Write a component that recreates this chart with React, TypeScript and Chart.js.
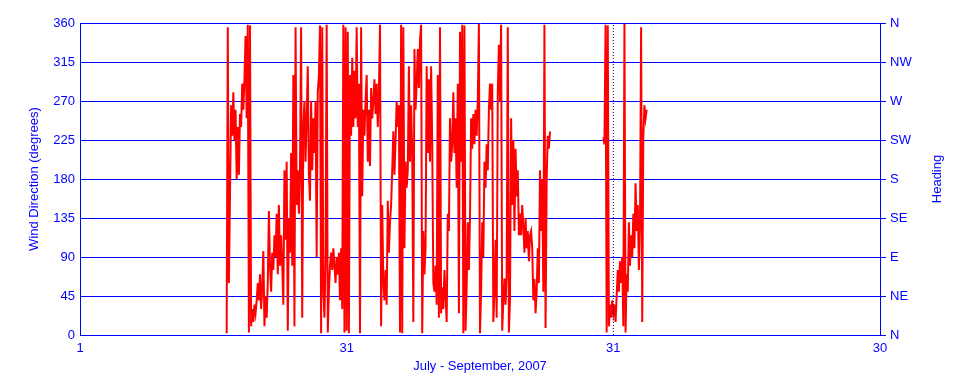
import React, { useEffect, useRef } from 'react';
import { Chart, registerables } from 'chart.js';

Chart.register(...registerables);

// Wind direction samples (degrees), one every 3 hours starting 16.5 days after July 1; null = no data
const START_DAY = 16.5;
const STEP_DAYS = 0.125;
const windDirection: (number | null)[] = [
  2, 355, 60, 160, 265, 230, 280, 225, 260, 180,
  240, 185, 255, 240, 290, 260, 295, 345, 250, 358,
  3, 357, 10, 30, 15, 35, 25, 40, 60, 40,
  70, 30, 55, 97, 10, 45, 20, 60, 143, 80,
  50, 95, 75, 115, 90, 140, 70, 150, 80, 115,
  80, 35, 190, 110, 200, 5, 135, 95, 210, 80,
  300, 10, 355, 150, 190, 140, 195, 355, 20, 240,
  270, 200, 250, 310, 185, 155, 270, 190, 250, 210,
  270, 90, 280, 300, 357, 2, 355, 50, 20, 90,
  358, 3, 50, 80, 95, 75, 100, 80, 60, 90,
  70, 95, 40, 100, 30, 358, 3, 355, 5, 350,
  2, 300, 230, 320, 240, 305, 250, 355, 240, 290,
  2, 355, 160, 260, 230, 270, 300, 200, 260, 195,
  285, 250, 270, 295, 255, 290, 240, 280, 358, 10,
  150, 60, 40, 75, 35, 155, 95, 130, 150, 190,
  235, 185, 225, 270, 240, 265, 3, 358, 2, 355,
  100, 200, 170, 190, 310, 200, 265, 210, 15, 330,
  260, 290, 330, 285, 340, 358, 2, 120, 70, 100,
  310, 210, 295, 200, 310, 220, 60, 50, 80, 35,
  300, 20, 355, 25, 55, 30, 75, 45, 15, 140,
  120, 250, 200, 220, 280, 210, 250, 170, 290, 25,
  350, 200, 358, 2, 357, 5, 55, 130, 75, 135,
  250, 215, 255, 220, 260, 230, 270, 359, 2, 50,
  130, 90, 200, 170, 220, 190, 260, 290, 260, 290,
  15, 50, 110, 20, 280, 335, 270, 358, 5, 40,
  65, 35, 70, 355, 3, 40, 250, 150, 225, 120,
  215, 160, 190, 115, 140, 115, 150, 125, 95, 135,
  100, 120, 85, 115, 120, 100, 40, 65, 25, 50,
  100, 60, 190, 120, 180, 50, 358, 8, 180, 230,
  215, 235,
  null, null, null, null, null, null, null, null, null, null,
  null, null, null, null, null, null, null, null, null, null,
  null, null, null, null, null, null, null, null, null, null,
  null, null, null, null, null, null, null, null, null, null,
  null, null, null, null, null, null, null,
  228, 220, 358, 3, 357, 10, 35, 20, 40, 25,
  35, 15, 45, 75, 50, 85, 60, 90, 10, 359,
  3, 70, 50, 130, 80, 115, 90, 140, 100, 175,
  120, 150, 75, 130, 355, 15, 230, 265, 250, 260,
];

const xTickDays = [0, 30, 60, 90];
const xTickLabels = ['1', '31', '31', '30'];
const degreeTicks = [0, 45, 90, 135, 180, 225, 270, 315, 360];
const headingLabels = ['N', 'NE', 'E', 'SE', 'S', 'SW', 'W', 'NW', 'N'];
const gapMarkerDay = 60;

const BLUE = '#0000ff';
const RED = '#ff0000';
const FONT_FAMILY = '"Liberation Sans", Arial, sans-serif';
const FONT = { family: FONT_FAMILY, size: 13 };

export default function App() {
  const canvasRef = useRef<HTMLCanvasElement>(null);

  useEffect(() => {
    const canvas = canvasRef.current;
    if (!canvas) return;
    const points = windDirection.map((v, i) => ({ x: START_DAY + i * STEP_DAYS, y: v }));

    const headingTitle = {
      id: 'headingTitle',
      afterDraw(chart: any) {
        const { ctx, chartArea } = chart;
        ctx.save();
        ctx.fillStyle = BLUE;
        ctx.font = `13px ${FONT_FAMILY}`;
        ctx.textAlign = 'center';
        ctx.textBaseline = 'middle';
        ctx.translate(chartArea.right + 57, (chartArea.top + chartArea.bottom) / 2);
        ctx.rotate(-Math.PI / 2);
        ctx.fillText('Heading', 0, 0);
        ctx.restore();
      },
    };

    const chart = new Chart(canvas, {
      type: 'line',
      data: {
        datasets: [
          {
            data: [
              { x: gapMarkerDay, y: 0 },
              { x: gapMarkerDay, y: 360 },
            ],
            borderColor: '#000080',
            borderWidth: 1,
            borderDash: [1, 2],
            pointRadius: 0,
            yAxisID: 'y',
          },
          {
            data: points,
            borderColor: RED,
            borderWidth: 2,
            pointRadius: 0,
            tension: 0,
            spanGaps: false,
            yAxisID: 'y',
          },
        ],
      },
      options: {
        responsive: false,
        animation: false,
        parsing: false as any,
        normalized: true,
        layout: { padding: { top: 23, left: 0, right: 0, bottom: 0 } },
        plugins: {
          legend: { display: false },
          tooltip: { enabled: false },
        },
        scales: {
          x: {
            type: 'linear',
            min: 0,
            max: 90,
            afterBuildTicks: (s: any) => {
              s.ticks = xTickDays.map((v) => ({ value: v }));
            },
            afterFit: (s: any) => {
              s.height = 49;
            },
            ticks: {
              color: BLUE,
              font: FONT,
              padding: 6,
              maxRotation: 0,
              autoSkip: false,
              callback: (v: any) => xTickLabels[xTickDays.indexOf(Number(v))],
            },
            grid: { drawOnChartArea: false, drawTicks: false, color: BLUE },
            border: { color: BLUE },
            title: {
              display: true,
              text: 'July - September, 2007',
              color: BLUE,
              font: FONT,
              padding: { top: 0, bottom: 10 },
            },
          },
          y: {
            type: 'linear',
            position: 'left',
            min: 0,
            max: 360,
            afterBuildTicks: (s: any) => {
              s.ticks = degreeTicks.map((v) => ({ value: v }));
            },
            afterFit: (s: any) => {
              s.width = 80;
            },
            ticks: { color: BLUE, font: FONT, padding: 5 },
            grid: { color: BLUE, drawTicks: false },
            border: { color: BLUE },
            title: {
              display: true,
              text: 'Wind Direction (degrees)',
              color: BLUE,
              font: FONT,
              padding: { top: 27, bottom: 0 },
            },
          },
          y2: {
            type: 'linear',
            position: 'right',
            min: 0,
            max: 360,
            afterBuildTicks: (s: any) => {
              s.ticks = degreeTicks.map((v) => ({ value: v }));
            },
            afterFit: (s: any) => {
              s.width = 80;
            },
            ticks: {
              color: BLUE,
              font: FONT,
              padding: 4,
              callback: (v: any) => headingLabels[degreeTicks.indexOf(Number(v))],
            },
            grid: { drawOnChartArea: false, color: BLUE, tickLength: 6 },
            border: { color: BLUE },
          },
        },
      },
      plugins: [headingTitle],
    });

    return () => chart.destroy();
  }, []);

  return (
    <div style={{ position: 'absolute', left: 0, top: 0, width: 960, height: 384, background: '#fff' }}>
      <canvas ref={canvasRef} width={960} height={384} />
    </div>
  );
}
